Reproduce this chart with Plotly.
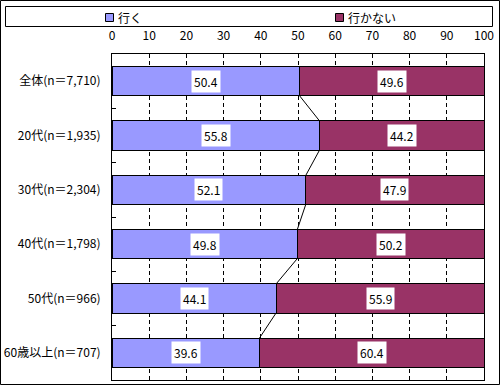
import plotly.graph_objects as go

categories = ["全体(n＝7,710)", "20代(n＝1,935)", "30代(n＝2,304)",
              "40代(n＝1,798)", "50代(n＝966)", "60歳以上(n＝707)"]
series_names = ["行く", "行かない"]
iku = [50.4, 55.8, 52.1, 49.8, 44.1, 39.6]
ikanai = [49.6, 44.2, 47.9, 50.2, 55.9, 60.4]
x_ticks = [0, 10, 20, 30, 40, 50, 60, 70, 80, 90, 100]
colors = ["#9999FF", "#993366"]

W, H = 500, 385
L, R, T, B = 112, 16, 54, 5
PW, PH = W - L - R, H - T - B
FONT = "Noto Sans CJK JP"
BAR_W = 0.534


def px(X):
    return (X - L) / PW


def py(Y):
    return (H - B - Y) / PH


idx = list(range(len(categories)))
fig = go.Figure()
fig.add_trace(go.Bar(y=idx, x=iku, orientation="h", name=series_names[0],
                     marker=dict(color=colors[0], line=dict(color="black", width=1)),
                     width=BAR_W, hoverinfo="skip"))
fig.add_trace(go.Bar(y=idx, x=ikanai, orientation="h", name=series_names[1],
                     marker=dict(color=colors[1], line=dict(color="black", width=1)),
                     width=BAR_W, hoverinfo="skip"))

# series lines connecting bar ends
lx, ly = [], []
for i in range(len(iku) - 1):
    lx += [iku[i], iku[i + 1], None]
    ly += [i + BAR_W / 2, i + 1 - BAR_W / 2, None]
fig.add_trace(go.Scatter(x=lx, y=ly, mode="lines", line=dict(color="black", width=1),
                         showlegend=False, hoverinfo="skip"))

annotations = []
for i in idx:
    annotations.append(dict(x=iku[i] / 2, y=i, xref="x", yref="y", text=f"{iku[i]:.1f}",
                            showarrow=False, bgcolor="white", borderpad=2,
                            font=dict(family=FONT, size=12, color="black")))
    annotations.append(dict(x=iku[i] + ikanai[i] / 2, y=i, xref="x", yref="y",
                            text=f"{ikanai[i]:.1f}", showarrow=False, bgcolor="white",
                            borderpad=2, font=dict(family=FONT, size=12, color="black")))

shapes = [
    # outer border
    dict(type="rect", xref="paper", yref="paper", x0=px(0.5), x1=px(499.5),
         y0=py(0.5), y1=py(384.5), line=dict(color="black", width=1), layer="below"),
    # legend box
    dict(type="rect", xref="paper", yref="paper", x0=px(5.5), x1=px(492.5),
         y0=py(6.5), y1=py(26.5), line=dict(color="black", width=1)),
]
leg_x = [105, 335]
for k, name in enumerate(series_names):
    shapes.append(dict(type="rect", xref="paper", yref="paper",
                       x0=px(leg_x[k] + 0.5), x1=px(leg_x[k] + 8.5),
                       y0=py(13.5), y1=py(21.5), fillcolor=colors[k],
                       line=dict(color="black", width=1)))
    annotations.append(dict(x=px(leg_x[k] + 11), y=py(17), xref="paper", yref="paper",
                            text=name, showarrow=False, xanchor="left", yanchor="middle",
                            font=dict(family=FONT, size=12, color="black")))

fig.update_layout(
    width=W, height=H, margin=dict(l=L, r=R, t=T, b=B, pad=0, autoexpand=False),
    barmode="stack", showlegend=False,
    paper_bgcolor="white", plot_bgcolor="white",
    font=dict(family=FONT, size=12, color="black"),
    shapes=shapes, annotations=annotations,
    xaxis=dict(side="top", range=[0, 100], tickvals=x_ticks, ticks="",
               ticklabelstandoff=8, showgrid=True, gridcolor="black", gridwidth=1,
               griddash="4px,3px", showline=True, linecolor="black", linewidth=1,
               mirror=True, zeroline=False, fixedrange=True, automargin=False),
    yaxis=dict(range=[len(categories) - 0.5, -0.5], tickvals=idx, ticktext=categories,
               ticks="", ticklabelstandoff=8, showgrid=False, zeroline=False,
               showline=True, linecolor="black", linewidth=1, mirror=True,
               tickfont=dict(family=FONT, size=12, color="black"),
               minor=dict(tickvals=[i + 0.5 for i in idx[:-1]], ticks="inside",
                          ticklen=4, tickcolor="black", showgrid=False),
               fixedrange=True, automargin=False),
)

fig.write_html("out.html", config={"displayModeBar": False},
               post_script="document.body.style.margin='0px';document.body.style.overflow='hidden';")
